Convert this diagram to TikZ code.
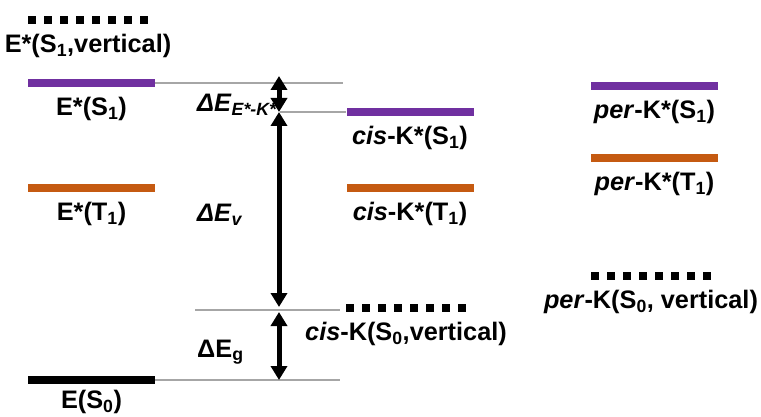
\documentclass[tikz,border=0pt]{standalone}
\usepackage{fontspec}
\setmainfont{Liberation Sans}
\usetikzlibrary{positioning, arrows.meta}

\definecolor{levpurple}{HTML}{7030A0}
\definecolor{levorange}{HTML}{C55A11}
\definecolor{guidegray}{HTML}{A6A6A6}

\begin{document}
\begin{tikzpicture}[x=1pt,y=-1pt,node distance=26pt,on grid,
   bar/.style={rectangle,inner sep=0pt,minimum width=127pt,minimum height=8pt,fill=#1},
   vbar/.style={rectangle,inner sep=0pt,minimum width=120pt,minimum height=8pt,
      path picture={\draw[line width=8pt,dash pattern=on 8pt off 8pt]
         (path picture bounding box.west) -- (path picture bounding box.east);}},
   lbl/.style={inner sep=0pt,text height=18pt,text depth=5pt,
      font=\fontsize{25.3}{30}\selectfont\bfseries},
   dlbl/.style={inner sep=0pt,anchor=base west,
      font=\fontsize{25.3}{30}\selectfont\bfseries},
   guide/.style={draw=guidegray,line width=1.5pt},
   dbl/.style={line width=5pt,
      {Triangle[width=16pt,length=14pt]}-{Triangle[width=16pt,length=14pt]}}]

   \useasboundingbox (0,0) rectangle (761,417);

   % levels
   \node[vbar] (E_S1v) at (88,20) {};
   \node[bar=levpurple] (E_S1) at (91.5,83) {};
   \node[bar=levorange] (E_T1) at (91.5,188) {};
   \node[bar=black] (E_S0) at (91.5,380) {};

   \node[bar=levpurple] (cis_S1) at (410,112) {};
   \node[bar=levorange] (cis_T1) at (410,188) {};
   \node[vbar] (cis_S0v) at (406,308) {};

   \node[bar=levpurple] (per_S1) at (654.5,86) {};
   \node[bar=levorange] (per_T1) at (654.5,158) {};
   \node[vbar] (per_S0v) at (651,276) {};

   % labels
   \node[lbl] (l_E_S1v) [below=26pt of E_S1v] {E*(S\textsubscript{1},vertical)};
   \node[lbl] (l_E_S1) [below=26pt of E_S1] {E*(S\textsubscript{1})};
   \node[lbl] (l_E_T1) [below=26pt of E_T1] {E*(T\textsubscript{1})};
   \node[lbl] (l_E_S0) [below=22pt of E_S0] {E(S\textsubscript{0})};
   \node[lbl] (l_cis_S1) [below=26pt of cis_S1] {\textit{cis}-K*(S\textsubscript{1})};
   \node[lbl] (l_cis_T1) [below=26pt of cis_T1] {\textit{cis}-K*(T\textsubscript{1})};
   \node[lbl] (l_cis_S0v) [below=26pt of cis_S0v] {\textit{cis}-K(S\textsubscript{0},vertical)};
   \node[lbl] (l_per_S1) [below=26pt of per_S1] {\textit{per}-K*(S\textsubscript{1})};
   \node[lbl] (l_per_T1) [below=26pt of per_T1] {\textit{per}-K*(T\textsubscript{1})};
   \node[lbl] (l_per_S0v) [below=26pt of per_S0v] {\textit{per}-K(S\textsubscript{0}, vertical)};

   % guide lines
   \coordinate (g_1) at (343,83);
   \coordinate (g_2) at (280,112);
   \coordinate (g_3) at (195,310);
   \coordinate (g_4) at (340,310);
   \coordinate (g_5) at (340,380);
   \draw[guide] (E_S1.east) -- (g_1);
   \draw[guide] (g_2) -- (cis_S1.west);
   \draw[guide] (g_3) -- (g_4);
   \draw[guide] (E_S0.east) -- (g_5);

   % energy gaps
   \coordinate (a_1) at (279,76);
   \coordinate (a_2) at (279,112);
   \coordinate (a_3) at (279,307);
   \coordinate (a_4) at (279,312);
   \coordinate (a_5) at (279,380);
   \draw[dbl] (a_1) -- (a_2);
   \draw[dbl] (a_2) -- (a_3);
   \draw[dbl] (a_4) -- (a_5);

   \node[dlbl] (d_EK) at (197,112) {\textit{ΔE}\textsubscript{\textit{E*-K*}}};
   \node[dlbl] (d_Ev) at (197,222) {\textit{ΔE}\textsubscript{\textit{v}}};
   \node[dlbl] (d_Eg) at (197,357) {ΔE\textsubscript{g}};

\end{tikzpicture}
\end{document}
